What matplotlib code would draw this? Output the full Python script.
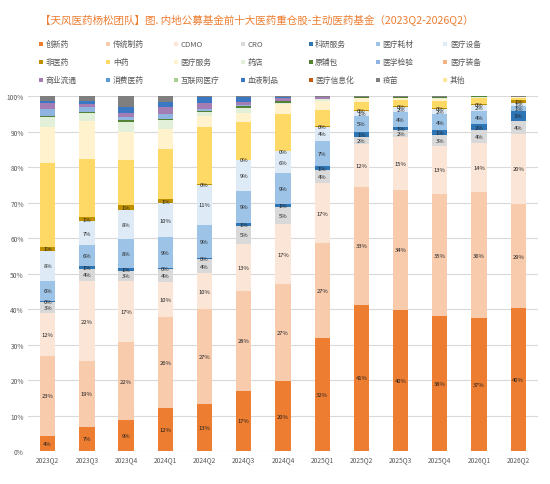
import matplotlib
matplotlib.use("Agg")
import matplotlib.pyplot as plt
from matplotlib.patches import Rectangle
from matplotlib.ticker import PercentFormatter
import numpy as np

plt.rcParams['font.family'] = ['Noto Sans CJK SC', 'DejaVu Sans']

quarters = ['2023Q2', '2023Q3', '2023Q4', '2024Q1', '2024Q2', '2024Q3', '2024Q4',
            '2025Q1', '2025Q2', '2025Q3', '2025Q4', '2026Q1', '2026Q2']

# share of top-10 holdings by sub-sector, %
innovative   = [4.2, 6.8, 8.7, 12.0, 13.2, 17.0, 19.7, 31.7, 41.2, 39.8, 37.9, 37.4, 40.2]
traditional  = [22.6, 18.6, 21.9, 25.8, 26.8, 28.2, 27.3, 26.9, 33.3, 33.8, 34.6, 35.6, 29.4]
cdmo         = [12.2, 22.4, 17.4, 9.7, 10.1, 13.1, 16.9, 16.8, 12.0, 14.8, 13.4, 13.8, 19.7]
cro          = [3.0, 3.6, 2.8, 3.8, 4.0, 5.2, 4.7, 3.8, 2.0, 1.9, 3.2, 3.6, 3.7]
research     = [0.3, 0.8, 0.7, 0.3, 0.4, 0.7, 1.0, 1.0, 1.3, 1.1, 1.3, 1.7, 2.9]
consumables  = [5.7, 5.7, 8.2, 8.6, 9.3, 9.1, 8.6, 7.2, 4.7, 4.0, 4.4, 3.8, 1.3]
equipment    = [8.3, 6.8, 8.3, 9.6, 11.1, 8.6, 6.2, 4.0, 1.4, 1.6, 1.6, 1.6, 0.8]
non_medical  = [1.3, 1.2, 1.3, 1.1, 0.3, 0.2, 0.2, 0.2, 0.2, 0.2, 0.2, 0.2, 0.8]
tcm          = [23.5, 16.4, 12.7, 14.2, 16.0, 10.5, 10.2, 4.4, 2.1, 1.7, 2.0, 1.6, 0.6]
med_service  = [10.1, 10.7, 7.8, 5.6, 3.2, 2.7, 2.9, 2.5, 1.1, 0.4, 0.6, 0.2, 0.2]
pharmacy     = [2.9, 2.1, 3.0, 2.6, 1.2, 1.2, 0.3, 0.6, 0.2, 0.2, 0.2, 0.1, 0.0]
excipient    = [0.3, 0.3, 0.3, 0.3, 0.1, 0.6, 0.6, 0.1, 0.3, 0.3, 0.4, 0.3, 0.2]
testing      = [1.9, 1.4, 0.9, 1.4, 0.6, 0.3, 0.0, 0.0, 0.0, 0.0, 0.0, 0.0, 0.0]
med_gear     = [0.0] * 13
distribution = [1.7, 0.9, 1.3, 1.9, 1.8, 1.0, 0.8, 0.4, 0.0, 0.0, 0.0, 0.0, 0.0]
consumer     = [0.0] * 13
internet     = [0.0] * 13
blood        = [0.6, 0.9, 1.5, 1.5, 1.6, 1.4, 0.3, 0.0, 0.0, 0.0, 0.0, 0.0, 0.0]
med_it       = [0.0] * 13
vaccine      = [1.4, 1.4, 3.2, 1.6, 0.3, 0.2, 0.3, 0.4, 0.2, 0.2, 0.2, 0.1, 0.2]
others       = [0.0] * 13

names = ['创新药', '传统制药', 'CDMO', 'CRO', '科研服务', '医疗耗材', '医疗设备',
         '非医药', '中药', '医疗服务', '药店', '原辅包', '医学检验', '医疗装备',
         '商业流通', '消费医药', '互联网医疗', '血液制品', '医疗信息化', '疫苗', '其他']
colors = ['#ED7D31', '#F8CBAD', '#FBE5D6', '#D9D9D9', '#2E75B6', '#9DC3E6', '#DEEBF7',
          '#BF9000', '#FFD966', '#FFF2CC', '#E2F0D9', '#548235', '#8FB4E0', '#F4B183',
          '#A57DB5', '#5B9BD5', '#A9D18E', '#3A78C3', '#C55A11', '#7F7F7F', '#FFE699']
values = [innovative, traditional, cdmo, cro, research, consumables, equipment,
          non_medical, tcm, med_service, pharmacy, excipient, testing, med_gear,
          distribution, consumer, internet, blood, med_it, vaccine, others]
n_labeled = 8  # only the first eight series carry value labels

fig = plt.figure(figsize=(5.5, 4.85), dpi=100)
ax = fig.add_axes([0.051, 0.068, 0.927, 0.732])

x = np.arange(len(quarters))
bottom = np.zeros(len(quarters))
for i, (vals, col) in enumerate(zip(values, colors)):
    v = np.array(vals, dtype=float)
    ax.bar(x, v, 0.39, bottom=bottom, color=col, zorder=2, linewidth=0)
    if i < n_labeled:
        for xi, b, h in zip(x, bottom, v):
            ax.text(xi, b + h / 2, f"{h:.0f}%", ha='center', va='center',
                    fontsize=4.2, color='#1f1f1f', zorder=3)
    bottom += v

ax.set_xlim(-0.5, len(quarters) - 0.5)
ax.set_ylim(0, 100)
ax.set_yticks(np.arange(0, 101, 10))
ax.yaxis.set_major_formatter(PercentFormatter(decimals=0))
ax.set_xticks(x)
ax.set_xticklabels(quarters)
ax.tick_params(axis='both', length=0, labelsize=4.8, colors='#595959')
ax.tick_params(axis='y', pad=3)
ax.tick_params(axis='x', pad=3)
ax.grid(axis='y', color='#D9D9D9', linewidth=0.8, zorder=0)
for s in ax.spines.values():
    s.set_visible(False)

fig.text(0.073, 0.959, '【天风医药杨松团队】图. 内地公募基金前十大医药重仓股-主动医药基金（2023Q2-2026Q2）',
         fontsize=7.6, color='#ED7D31', va='center', ha='left')

# legend laid out like the source: 3 rows x 7 evenly spaced columns
W, H = 550.0, 485.0
for i, (name, col) in enumerate(zip(names, colors)):
    r, c = divmod(i, 7)
    px = 39 + c * 67.4
    py = 45 + r * 18
    fig.add_artist(Rectangle((px / W, (H - py - 2) / H), 4 / W, 4 / H,
                             transform=fig.transFigure, color=col, linewidth=0))
    fig.text((px + 6.5) / W, (H - py) / H, name, fontsize=5.6, color='#595959',
             va='center', ha='left')

fig.savefig('out.png', dpi=100)
